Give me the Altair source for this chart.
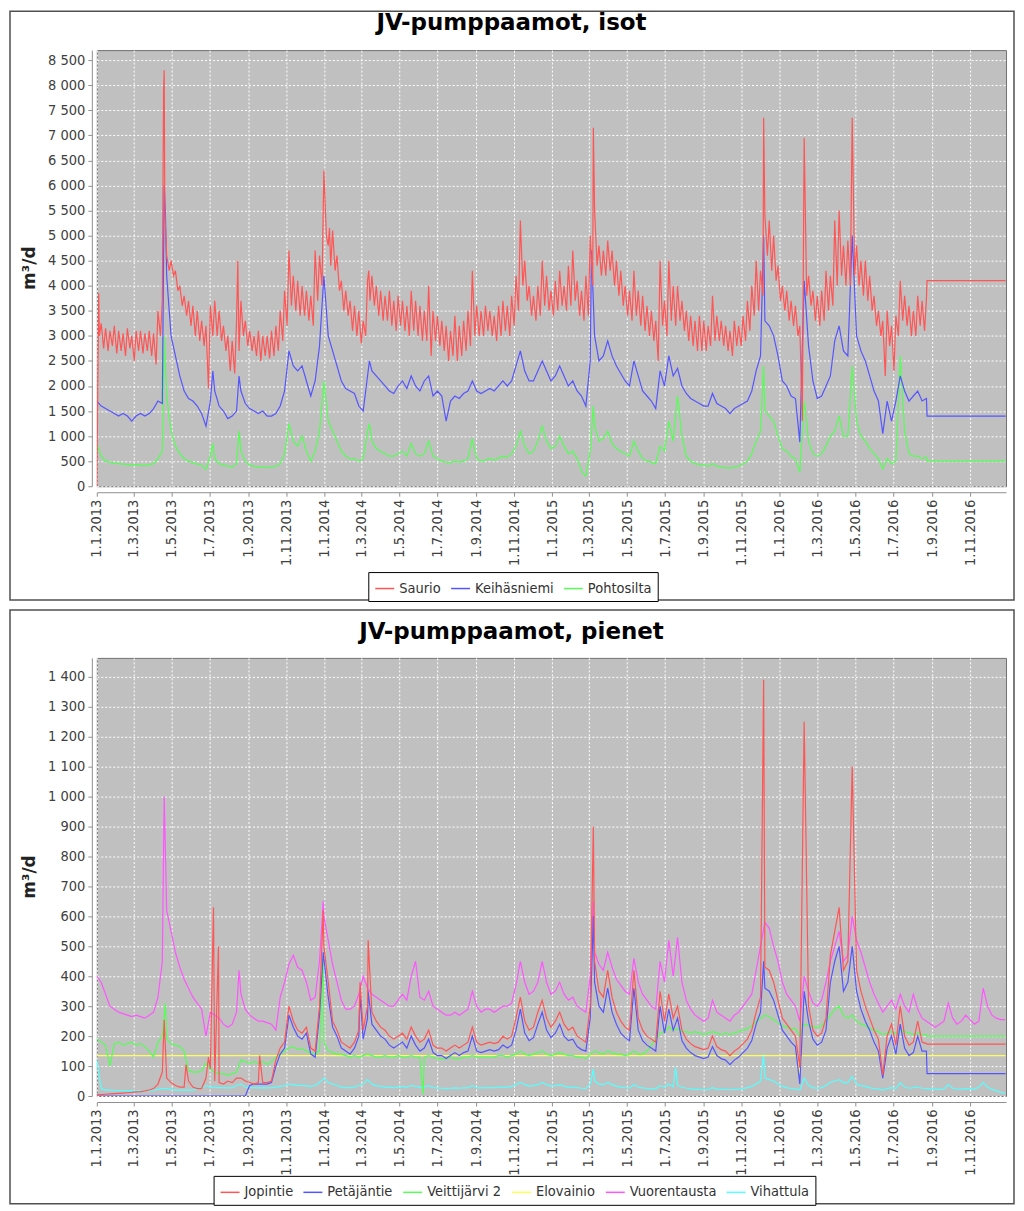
import altair as alt
import pandas as pd

START = pd.Timestamp("2013-01-01")
FONT = "DejaVu Sans Condensed, DejaVu Sans"
TITLE_FONT = "DejaVu Sans"

# ---------------- top chart: JV-pumppaamot, isot (weekly readings, day = 7*i) ----------------
TOP_NAMES = ["Saurio", "Keihäsniemi", "Pohtosilta"]
TOP_COLORS = ["#FF5555", "#5555FF", "#55FF55"]

saurio_hi = [
    0, 3250, 3150, 3100, 3200, 3100, 3050, 3150, 3000, 3100,
    3100, 3050, 3100, 3050, 3500, 3700, 4600, 4500, 4300, 4000,
    3800, 3700, 3600, 3500, 3300, 3200, 3600, 3700, 3500, 3200,
    3000, 2900, 3300, 3700, 3300, 3100, 3000, 3100, 3000, 3000,
    3100, 3200, 3500, 3900, 4700, 4200, 4100, 4000, 3900, 3800,
    4700, 4600, 6300, 4800, 5100, 4600, 4100, 3900, 3700, 3600,
    3500, 3300, 4100, 4200, 4000, 3900, 3800, 3900, 3700, 3800,
    3700, 3600, 3900, 3700, 3600, 3500, 4000, 3500, 3400, 3300,
    3200, 3100, 3400, 3200, 3300, 3500, 4300, 3600, 3500, 3600,
    3500, 3400, 3600, 3700, 3600, 3800, 4200, 5300, 4500, 4000,
    3800, 4000, 4500, 4200, 3900, 4100, 4300, 4000, 4400, 4700,
    4100, 3900, 4200, 5000, 5500, 4800, 4700, 4900, 4700, 4500,
    4300, 4000, 3900, 4300, 3900, 3800, 3600, 3500, 3300, 4500,
    3700, 4500, 4000, 4000, 3700, 3500, 3400, 3300, 3400, 3300,
    3200, 3800, 3400, 3300, 3200, 3100, 3300, 3200, 3400, 3700,
    4000, 4500, 4300, 5400, 5300, 5000, 4400, 4000, 3900, 3700,
    3600, 3200, 6950, 4200, 3900, 3800, 3900, 4300, 4200, 5300,
    5500, 4800, 4900, 7350, 4800, 4500, 4500, 4200, 3800, 3500,
    3300, 3500, 3200, 3400, 4100, 3800, 3600, 3500, 3800, 3700,
    3750,
]
# weekly low points (day = 7*i + 4)
saurio_lo = [
    3000, 2750, 2700, 2800, 2650, 2700, 2600, 2750, 2500, 2700,
    2650, 2700, 2600, 2430, 3000, 5500, 4300, 4200, 3900, 3600,
    3400, 3200, 3000, 2900, 2800, 1950, 3000, 3000, 2900, 2700,
    2300, 2250, 2700, 3000, 2800, 2700, 2600, 2500, 2600, 2550,
    2600, 2700, 2900, 3200, 3600, 3500, 3400, 3400, 3300, 3200,
    3700, 4000, 5000, 4400, 4300, 3900, 3500, 3400, 3100, 3000,
    2850, 3000, 3700, 3600, 3400, 3300, 3300, 3200, 3100, 3200,
    3100, 3000, 3100, 3000, 2900, 2900, 2600, 2900, 2800, 2700,
    2500, 2600, 2500, 2600, 2700, 2800, 3000, 3000, 3000, 3100,
    3000, 2900, 3000, 3100, 3000, 3200, 3500, 4000, 3700, 3400,
    3300, 3400, 3600, 3500, 3400, 3500, 3600, 3500, 3600, 3700,
    3400, 3300, 3400, 4000, 4400, 4200, 4200, 4300, 4000, 3800,
    3600, 3400, 3300, 3400, 3200, 3100, 3000, 2900, 2500, 3200,
    3000, 3300, 3200, 3300, 3100, 2900, 2800, 2700, 2700, 2700,
    2800, 2900, 2900, 2800, 2700, 2600, 2800, 2800, 2900, 3100,
    3400, 3500, 3800, 4600, 4300, 4100, 3700, 3500, 3300, 3200,
    3000, 1300, 3800, 3600, 3300, 3200, 3300, 3500, 3600, 4000,
    4200, 4000, 4000, 4200, 4000, 3800, 3700, 3500, 3200, 3000,
    2200, 2800, 2300, 3000, 3300, 3200, 3000, 3000, 3200, 3100,
]
saurio_spikes = [(3, 3850), (107, 7900), (108, 8300), (226, 4500), (373, 5150),
                 (436, 4300), (796, 7150), (1069, 7350)]
saurio_tail = [(1331, 4100), (1457, 4100)]

keih = [
    1700, 1600, 1550, 1500, 1450, 1400, 1450, 1400, 1300, 1400,
    1450, 1400, 1450, 1550, 1700, 1650, 4200, 3000, 2600, 2200,
    1900, 1750, 1700, 1600, 1450, 1200, 1700, 1900, 1600, 1500,
    1350, 1400, 1500, 1900, 1650, 1550, 1500, 1450, 1500, 1400,
    1400, 1450, 1600, 1900, 2700, 2400, 2300, 2400, 2100, 1800,
    2100, 2800, 4200, 3000, 2700, 2400, 2100, 1950, 1900, 1850,
    1600, 1500, 2200, 2300, 2200, 2100, 2000, 1900, 1850, 2000,
    2100, 1950, 2200, 2000, 1900, 2100, 2200, 1800, 1900, 1800,
    1300, 1700, 1800, 1750, 1850, 1900, 2100, 1900, 1850, 1900,
    1950, 1900, 2000, 2100, 2000, 2100, 2400, 2700, 2300, 2100,
    2100, 2300, 2500, 2300, 2100, 2200, 2400, 2200, 2000, 2100,
    1900, 1800, 1600, 2500, 3000, 2500, 2600, 2900, 2600, 2400,
    2250, 2100, 2000, 2500, 2200, 1900, 1800, 1700, 1550, 2300,
    2000, 2600, 2200, 2350, 2000, 1850, 1750, 1700, 1650, 1600,
    1600, 1850, 1650, 1600, 1550, 1450, 1550, 1600, 1650, 1700,
    1900, 2300, 2600, 3300, 3200, 3000, 2600, 2100, 2000, 1800,
    1750, 880, 4100, 2800, 2100, 1750, 1800, 2000, 2200, 2900,
    3200, 2700, 2600, 5000, 3000, 2700, 2500, 2200, 1900, 1700,
    1050, 1700, 1300, 1700, 2200, 1900, 1700, 1800, 1900, 1700,
    1750,
]
keih_spikes = [(108, 6000), (110, 5400), (186, 2300), (228, 2200), (437, 2500),
               (793, 4700), (1069, 5000)]
keih_tail = [(1331, 1400), (1457, 1400)]

poht = [
    850, 600, 500, 480, 460, 450, 440, 430, 420, 430,
    420, 410, 430, 450, 550, 700, 1800, 1100, 800, 650,
    550, 500, 470, 440, 420, 340, 600, 550, 450, 420,
    400, 380, 450, 700, 500, 420, 400, 380, 390, 370,
    380, 400, 450, 650, 1250, 900, 800, 1000, 700, 500,
    700, 1100, 2100, 1300, 1100, 900, 700, 600, 550, 550,
    500, 550, 1100, 900, 750, 700, 650, 600, 600, 650,
    700, 600, 850, 650, 600, 650, 900, 600, 550, 500,
    480, 470, 500, 480, 500, 550, 950, 550, 500, 520,
    550, 520, 560, 600, 580, 650, 800, 1100, 800, 650,
    700, 900, 1200, 900, 750, 800, 1000, 800, 650, 700,
    550, 300, 200, 700, 1200, 900, 950, 1100, 850, 750,
    700, 650, 600, 900, 700, 550, 500, 480, 450, 800,
    700, 1300, 900, 1800, 1000, 600, 500, 450, 430, 420,
    400, 450, 400, 380, 370, 360, 380, 400, 450, 500,
    650, 900, 1100, 1500, 1400, 1300, 1000, 750, 700, 600,
    550, 280, 1700, 900, 650, 600, 650, 800, 1000, 1100,
    1400, 1000, 1000, 2400, 1300, 1000, 900, 750, 650, 550,
    350, 550, 450, 500, 2600, 1100, 650, 600, 600, 550,
    580,
]
poht_spikes = [(108, 3000), (186, 850), (228, 1100), (437, 1250), (796, 1600), (1069, 2400)]
poht_tail = [(1331, 500), (1457, 500)]

# ---------------- bottom chart: JV-pumppaamot, pienet ----------------
BOT_NAMES = ["Jopintie", "Petäjäntie", "Veittijärvi 2", "Elovainio", "Vuorentausta", "Vihattula"]
BOT_COLORS = ["#FF5555", "#5555FF", "#55FF55", "#FFFF55", "#FF55FF", "#55FFFF"]

jop = [
    5, 5, 6, 7, 8, 9, 10, 11, 12, 14,
    15, 17, 20, 25, 40, 80, 60, 45, 35, 30,
    30, 50, 30, 25, 25, 60, 90, 50, 45, 40,
    50, 45, 60, 60, 50, 45, 40, 45, 45, 45,
    50, 120, 160, 180, 300, 250, 220, 210, 230, 160,
    150, 300, 500, 380, 250, 220, 180, 170, 160, 180,
    220, 220, 300, 280, 250, 230, 220, 200, 190, 200,
    210, 190, 230, 200, 180, 190, 220, 170, 160, 160,
    150, 160, 170, 160, 170, 180, 230, 180, 170, 175,
    180, 175, 180, 200, 190, 200, 260, 330, 250, 220,
    230, 280, 320, 260, 230, 250, 280, 240, 220, 230,
    200, 190, 180, 300, 450, 350, 330, 420, 330, 280,
    250, 230, 220, 420, 260, 220, 200, 190, 180, 350,
    250, 340, 260, 300, 220, 190, 175, 165, 160, 155,
    160, 200, 165, 155, 150, 135, 150, 160, 175, 190,
    220, 280, 330, 430, 420, 380, 320, 260, 240, 220,
    200, 95, 1250, 300, 220, 200, 210, 260, 470, 550,
    630, 420, 450, 1100, 420, 350, 300, 260, 220, 190,
    70, 200, 240, 170, 300, 200, 170, 180, 250, 180,
    175,
]
jop_spikes = [(108, 255), (143, 105), (179, 130), (187, 630), (195, 500), (261, 135),
              (363, 620), (422, 380), (435, 520), (796, 900), (1069, 1390)]
jop_tail = [(1331, 173), (1457, 173)]

pet = [
    0, 0, 0, 0, 0, 0, 0, 0, 0, 0,
    0, 0, 0, 0, 0, 0, 0, 0, 0, 0,
    0, 0, 0, 0, 0, 0, 0, 0, 0, 0,
    0, 0, 0, 0, 0, 35, 40, 40, 40, 40,
    45, 100, 140, 160, 270, 230, 200, 190, 210, 140,
    130, 270, 460, 330, 230, 200, 160, 150, 140, 160,
    200, 190, 260, 240, 220, 200, 190, 170, 160, 170,
    180, 160, 200, 170, 150, 160, 190, 145, 135, 135,
    125, 135, 145, 135, 145, 150, 200, 150, 145, 150,
    155, 150, 155, 170, 160, 170, 220, 290, 210, 185,
    195, 240, 280, 220, 195, 210, 240, 200, 185, 190,
    165, 155, 150, 260, 380, 300, 280, 360, 280, 240,
    210, 195, 185, 360, 220, 185, 170, 160, 150, 300,
    210, 290, 220, 260, 185, 160, 145, 135, 130, 125,
    130, 165, 135, 125, 120, 105, 120, 130, 145, 160,
    185, 240, 280, 360, 350, 320, 270, 220, 200, 180,
    165, 40, 350, 250, 190, 170, 180, 220, 380, 450,
    500, 350, 380, 500, 350, 290, 250, 220, 180, 150,
    60, 160, 200, 140, 240, 160, 135, 145, 200, 150,
    150,
]
pet_spikes = [(363, 480), (422, 340), (435, 350), (796, 600), (1069, 450)]
pet_tail = [(1331, 75), (1457, 75)]

veit = [
    190, 180, 170, 100, 175, 180, 170, 175, 180, 170,
    175, 165, 150, 130, 180, 200, 190, 175, 170, 165,
    150, 85, 80, 80, 85, 110, 90, 80, 75, 75,
    70, 75, 80, 120, 115, 110, 115, 110, 115, 105,
    115, 130, 140, 150, 160, 165, 155, 160, 150, 145,
    140, 150, 180, 150, 145, 140, 140, 135, 130, 135,
    130, 135, 140, 135, 130, 130, 135, 130, 130, 135,
    130, 130, 135, 130, 130, 130, 135, 130, 125, 125,
    125, 130, 125, 125, 130, 130, 135, 130, 130, 130,
    130, 130, 135, 135, 130, 135, 140, 150, 140, 135,
    140, 145, 150, 140, 135, 140, 145, 140, 135, 135,
    130, 130, 125, 140, 150, 145, 140, 150, 145, 140,
    140, 135, 140, 150, 140, 140, 150, 170, 190, 210,
    215, 230, 220, 225, 215, 215, 210, 215, 210, 205,
    210, 215, 210, 205, 210, 205, 210, 215, 220, 225,
    235, 250, 260, 270, 265, 255, 245, 235, 230, 225,
    225, 200, 240, 235, 230, 230, 235, 250, 270, 290,
    300, 270, 260, 270, 250, 240, 235, 225, 220, 215,
    205, 210, 215, 210, 220, 215, 210, 205, 210, 205,
    205,
]
veit_spikes = [(110, 310), (363, 470), (523, 5)]
veit_tail = [(1331, 200), (1457, 200)]

elov_days = [0, 1124, 1127, 1130, 1457]
elov_vals = [135, 135, 75, 135, 135]

vuor = [
    400, 380, 340, 300, 290, 280, 275, 270, 265, 270,
    265, 260, 270, 280, 330, 450, 620, 550, 480, 430,
    390, 360, 330, 310, 290, 200, 280, 270, 260, 240,
    230, 240, 280, 340, 290, 270, 260, 250, 250, 245,
    240, 220, 330, 380, 440, 470, 430, 420, 380, 320,
    330, 450, 600, 520, 440, 380, 320, 290, 290, 300,
    340, 400, 360, 340, 330, 320, 310, 300, 300, 320,
    340, 320, 400, 450, 330, 320, 350, 300, 290, 280,
    270, 270, 280, 270, 280, 290, 350, 300, 280, 290,
    290, 280, 290, 300, 300, 310, 370, 450, 380, 340,
    350, 380, 450, 380, 340, 350, 380, 340, 320, 330,
    300, 290, 280, 400, 480, 440, 420, 480, 430, 390,
    370, 350, 340, 460, 380, 340, 320, 300, 290, 450,
    380, 520, 400, 530, 380, 320, 290, 270, 260, 250,
    260, 320, 280, 270, 260, 250, 270, 280, 300, 320,
    340, 420, 500, 580, 560, 500, 450, 380, 340, 320,
    300, 250, 400, 350, 310, 300, 320, 380, 450, 500,
    550, 450, 470, 600, 520, 480, 430, 380, 340, 310,
    280, 300, 320, 290, 340, 300, 280, 340, 290, 260,
    250, 240, 230, 240, 250, 310, 260, 240, 250, 270,
    255, 240, 250, 360, 300, 270, 260, 255, 255,
]
vuor_spikes = [(108, 1000), (228, 420), (363, 650), (796, 650)]

viha = [
    120, 25, 20, 20, 18, 18, 18, 17, 18, 17,
    18, 17, 18, 20, 22, 25, 25, 22, 20, 20,
    20, 20, 20, 22, 25, 35, 30, 30, 28, 28,
    27, 28, 35, 40, 30, 28, 28, 27, 28, 27,
    28, 30, 32, 35, 40, 38, 35, 36, 34, 32,
    35, 45, 60, 45, 40, 35, 30, 28, 28, 30,
    35, 40, 55, 40, 35, 32, 30, 30, 28, 30,
    32, 30, 35, 32, 30, 30, 35, 28, 27, 26,
    25, 26, 27, 26, 27, 28, 35, 28, 27, 28,
    28, 28, 29, 30, 30, 32, 38, 45, 38, 33,
    35, 38, 45, 38, 33, 35, 38, 33, 30, 30,
    28, 26, 25, 40, 50, 40, 38, 45, 38, 33,
    30, 28, 27, 38, 30, 27, 25, 24, 24, 35,
    30, 40, 30, 35, 30, 26, 24, 22, 22, 21,
    22, 28, 23, 22, 22, 21, 22, 23, 25, 28,
    32, 40, 50, 60, 55, 50, 40, 32, 28, 25,
    24, 20, 60, 35, 28, 26, 28, 35, 45, 50,
    55, 45, 45, 65, 40, 35, 32, 28, 25, 24,
    20, 25, 28, 25, 45, 30, 26, 28, 30, 26,
    25, 24, 23, 22, 23, 38, 26, 24, 23, 25,
    24, 23, 30, 45, 30, 22, 18, 12, 10,
]
viha_spikes = [(796, 90), (928, 95), (1069, 140)]

TICK_MONTHS = [1, 3, 5, 7, 9, 11]
TICK_YEARS = [2013, 2014, 2015, 2016]
TOP_Y_TICKS = list(range(0, 8501, 500))
BOT_Y_TICKS = list(range(0, 1401, 100))


def weekly_points(values, offset=0):
    return [(7 * i + offset, v) for i, v in enumerate(values)]


def make_rows(name, pts):
    pts = sorted(pts, key=lambda p: p[0])
    return [{"date": START + pd.Timedelta(days=d), "value": v, "series": name} for d, v in pts]


top_rows = []
top_rows += make_rows("Saurio", weekly_points(saurio_hi) + weekly_points(saurio_lo, 4) + saurio_spikes + saurio_tail)
top_rows += make_rows("Keihäsniemi", weekly_points(keih) + keih_spikes + keih_tail)
top_rows += make_rows("Pohtosilta", weekly_points(poht) + poht_spikes + poht_tail)
df_top = pd.DataFrame(top_rows)

bot_rows = []
bot_rows += make_rows("Jopintie", weekly_points(jop) + jop_spikes + jop_tail)
bot_rows += make_rows("Petäjäntie", weekly_points(pet) + pet_spikes + pet_tail)
bot_rows += make_rows("Veittijärvi 2", weekly_points(veit) + veit_spikes + veit_tail)
bot_rows += make_rows("Elovainio", list(zip(elov_days, elov_vals)))
bot_rows += make_rows("Vuorentausta", weekly_points(vuor) + vuor_spikes)
bot_rows += make_rows("Vihattula", weekly_points(viha) + viha_spikes)
df_bot = pd.DataFrame(bot_rows)

W = 911
H_TOP = 437
H_BOT = 439


def x_enc():
    return alt.X(
        "date:T",
        scale=alt.Scale(domain=[alt.DateTime(year=2013, month=1, date=1),
                                alt.DateTime(year=2016, month=12, date=28, hours=14)]),
        axis=alt.Axis(
            values=[alt.DateTime(year=y, month=m, date=1) for y in TICK_YEARS for m in TICK_MONTHS],
            format="%-d.%-m.%Y", labelAngle=270, labelFlush=False, labelOverlap=False,
            labelFont=FONT, labelFontSize=14.5, labelColor="#404040", labelPadding=3,
            tickSize=4, tickColor="#909090", domainColor="#909090", offset=6,
            grid=True, gridColor="white", gridDash=[2, 2], gridWidth=1, gridOpacity=1,
            title=None,
        ),
    )


def y_enc(dmax, ticks):
    return alt.Y(
        "value:Q",
        scale=alt.Scale(domain=[0, dmax], nice=False, zero=True),
        axis=alt.Axis(
            values=ticks, labelExpr="replace(format(datum.value, ','), ',', ' ')",
            labelFont=FONT, labelFontSize=14.5, labelColor="#404040", labelPadding=3,
            tickSize=4, tickColor="#909090", domainColor="#909090", offset=5,
            grid=True, gridColor="white", gridDash=[2, 2], gridWidth=1, gridOpacity=1,
            title=None,
        ),
    )


def color_enc(names, colors, cols, lx, ly):
    return alt.Color(
        "series:N",
        scale=alt.Scale(domain=names, range=colors),
        legend=alt.Legend(
            orient="none", legendX=lx, legendY=ly, direction="horizontal", columns=cols,
            title=None, symbolType="stroke", symbolSize=361, symbolStrokeWidth=1.5,
            labelFont=FONT, labelFontSize=14.5, labelColor="#333333", labelOffset=4,
            strokeColor="black", fillColor="white", padding=6, columnPadding=7,
        ),
    )


one = pd.DataFrame({"k": [0]})


def panel(df, names, colors, title, dmax, ticks, height, frame, title_y, legend_xy, cols):
    frame_l = alt.Chart(one).mark_rect(filled=False, stroke="#505050", strokeWidth=1.5).encode(
        x=alt.value(frame[0]), x2=alt.value(frame[1]), y=alt.value(frame[2]), y2=alt.value(frame[3]))
    title_l = alt.Chart(one).mark_text(
        text=title, font=TITLE_FONT, fontSize=23, fontWeight="bold", color="black",
        align="center", baseline="middle").encode(x=alt.value(415.5), y=alt.value(title_y))
    ytitle_l = alt.Chart(one).mark_text(
        text="m³/d", font=TITLE_FONT, fontSize=17, fontWeight="bold", color="#222222",
        angle=270, align="center", baseline="middle").encode(x=alt.value(-67), y=alt.value(height / 2))
    lines = []
    for name in reversed(names):
        lines.append(
            alt.Chart(df).transform_filter(alt.datum.series == name)
            .mark_line(strokeWidth=1.2, clip=True)
            .encode(x=x_enc(), y=y_enc(dmax, ticks),
                    color=color_enc(names, colors, cols, legend_xy[0], legend_xy[1]))
        )
    return alt.layer(frame_l, title_l, ytitle_l, *lines).properties(width=W, height=height)


top = panel(df_top, TOP_NAMES, TOP_COLORS, "JV-pumppaamot, isot", 8700, TOP_Y_TICKS, H_TOP,
            (-87, 919, -39, 551), -27, (272, 523), 3)
bot = panel(df_bot, BOT_NAMES, BOT_COLORS, "JV-pumppaamot, pienet", 1463, BOT_Y_TICKS, H_BOT,
            (-87, 919, -48, 547), -26, (117, 519), 6)

chart = (
    alt.vconcat(top, bot, spacing=6)
    .resolve_scale(color="independent", x="independent", y="independent")
    .properties(padding=0)
    .configure_view(fill="#C0C0C0", stroke="#707070", strokeWidth=1)
)

chart.save("out.html", embed_options={"renderer": "svg", "actions": False})
